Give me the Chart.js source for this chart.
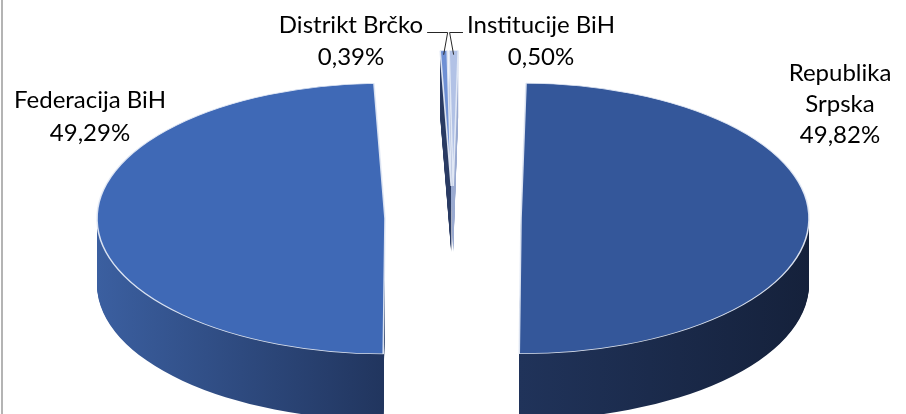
<!DOCTYPE html>
<html>
<head>
<meta charset="utf-8">
<script src="https://cdn.jsdelivr.net/npm/chart.js@4.4.0/dist/chart.umd.min.js"></script>
<style>
  html,body{margin:0;padding:0;background:#fff;}
  #wrap{position:relative;width:906px;height:414px;overflow:hidden;}
  #frame{position:absolute;left:1px;top:0;width:2px;height:414px;background:#b4b4b4;}
</style>
</head>
<body>
<div id="wrap">
  <canvas id="pie" width="906" height="414"></canvas>
  <div id="frame"></div>
</div>
<script>
// ===== data =====
const labels = ['Republika Srpska', 'Federacija BiH', 'Distrikt Brčko', 'Institucije BiH'];
const shares = [49.82, 49.29, 0.39, 0.50];
const topColors = ['#34579a', '#3f69b6', '#6f90d4', '#b2c2e6'];
const sideColors = [['#20335a', '#15213b'], ['#3b5fa0', '#21355e'], ['#2a3b63', '#2a3b63'], ['#9aaad0', '#9aaad0']];

// ===== 3d look =====
const RADIUS = 288;
const SQUASH = 0.47;
const DEPTH = 66;
const EXPLODE = 68;
const FONT = '24px Lato, "Liberation Sans", sans-serif';

// label anchor (center x, first baseline), line height, wrap width
const labelLayout = [
  {x: 840, y: 81, lh: 31, wrap: 120},
  {x: 90, y: 108, lh: 33, wrap: 400},
  {x: 351, y: 33, lh: 32, wrap: 400, leader: -1},
  {x: 541, y: 33, lh: 32, wrap: 400, leader: 1}
];

function pctText(v){ return v.toFixed(2).replace('.', ',') + '%'; }

function wrapText(ctx, text, maxW){
  const words = text.split(' ');
  const lines = [];
  let cur = '';
  words.forEach(w => {
    const t = cur ? cur + ' ' + w : w;
    if(cur && ctx.measureText(t).width > maxW){ lines.push(cur); cur = w; }
    else cur = t;
  });
  if(cur) lines.push(cur);
  return lines;
}

function xExtent(arc){
  let mn = Infinity, mx = -Infinity;
  for(let k = 0; k <= 60; k++){
    const a = arc.startAngle + (arc.endAngle - arc.startAngle) * k / 60;
    mn = Math.min(mn, Math.cos(a)); mx = Math.max(mx, Math.cos(a));
  }
  mn = Math.min(mn, 0); mx = Math.max(mx, 0);
  return [arc.x + mn * arc.outerRadius, arc.x + mx * arc.outerRadius];
}

function drawArc(ctx, arc, dy, override){
  const mid = (arc.startAngle + arc.endAngle) / 2;
  ctx.save();
  ctx.translate(0, dy);
  ctx.translate(arc.x, arc.y);
  ctx.scale(1, SQUASH);
  ctx.translate(-arc.x, -arc.y);
  ctx.translate(Math.cos(mid) * EXPLODE, Math.sin(mid) * EXPLODE);
  const fake = Object.create(arc);
  fake.options = Object.assign({}, arc.options, override || {});
  Chart.ArcElement.prototype.draw.call(fake, ctx);
  ctx.restore();
}

function tipOf(arc){
  const mid = (arc.startAngle + arc.endAngle) / 2;
  const r = arc.outerRadius + EXPLODE;
  return {x: arc.x + Math.cos(mid) * r, y: arc.y + Math.sin(mid) * r * SQUASH};
}

const pie3d = {
  id: 'pie3d',
  beforeDatasetsDraw(chart){
    const ctx = chart.ctx;
    const arcs = chart.getDatasetMeta(0).data;
    // sides
    arcs.forEach((arc, i) => {
      const [x0, x1] = xExtent(arc);
      const g = ctx.createLinearGradient(x0, 0, x1, 0);
      g.addColorStop(0, sideColors[i][0]);
      g.addColorStop(1, sideColors[i][1]);
      for(let d = DEPTH; d >= 1; d--){
        drawArc(ctx, arc, d, {backgroundColor: g, borderWidth: 0});
      }
    });
    // tops
    arcs.forEach(arc => drawArc(ctx, arc, 0));
    return false;
  },
  afterDraw(chart){
    const ctx = chart.ctx;
    const arcs = chart.getDatasetMeta(0).data;
    ctx.save();
    ctx.font = FONT;
    ctx.fillStyle = '#000';
    ctx.textAlign = 'center';
    ctx.textBaseline = 'alphabetic';
    labels.forEach((name, i) => {
      const L = labelLayout[i];
      const lines = wrapText(ctx, name, L.wrap).concat([pctText(shares[i])]);
      lines.forEach((t, j) => ctx.fillText(t, L.x, L.y + j * L.lh));
      if(L.leader){
        const tip = tipOf(arcs[i]);
        const w = ctx.measureText(lines[0]).width;
        const ly = L.y - 1;
        const sx = L.leader < 0 ? L.x + w / 2 + 4 : L.x - w / 2 - 4;
        ctx.strokeStyle = '#262626';
        ctx.lineWidth = 1;
        ctx.beginPath();
        ctx.moveTo(sx, ly + 0.5);
        ctx.lineTo(tip.x - L.leader * 4, ly + 0.5);
        ctx.lineTo(tip.x, tip.y + 4);
        ctx.stroke();
      }
    });
    ctx.restore();
  }
};

new Chart(document.getElementById('pie'), {
  type: 'pie',
  data: {
    labels: labels,
    datasets: [{
      data: shares,
      backgroundColor: topColors,
      borderColor: 'rgba(228,234,246,0.95)',
      borderWidth: 1.6,
      radius: RADIUS
    }]
  },
  options: {
    responsive: false,
    animation: false,
    rotation: 1,
    layout: {padding: {top: 22}},
    plugins: {legend: {display: false}, tooltip: {enabled: false}}
  },
  plugins: [pie3d]
});
</script>
</body>
</html>
